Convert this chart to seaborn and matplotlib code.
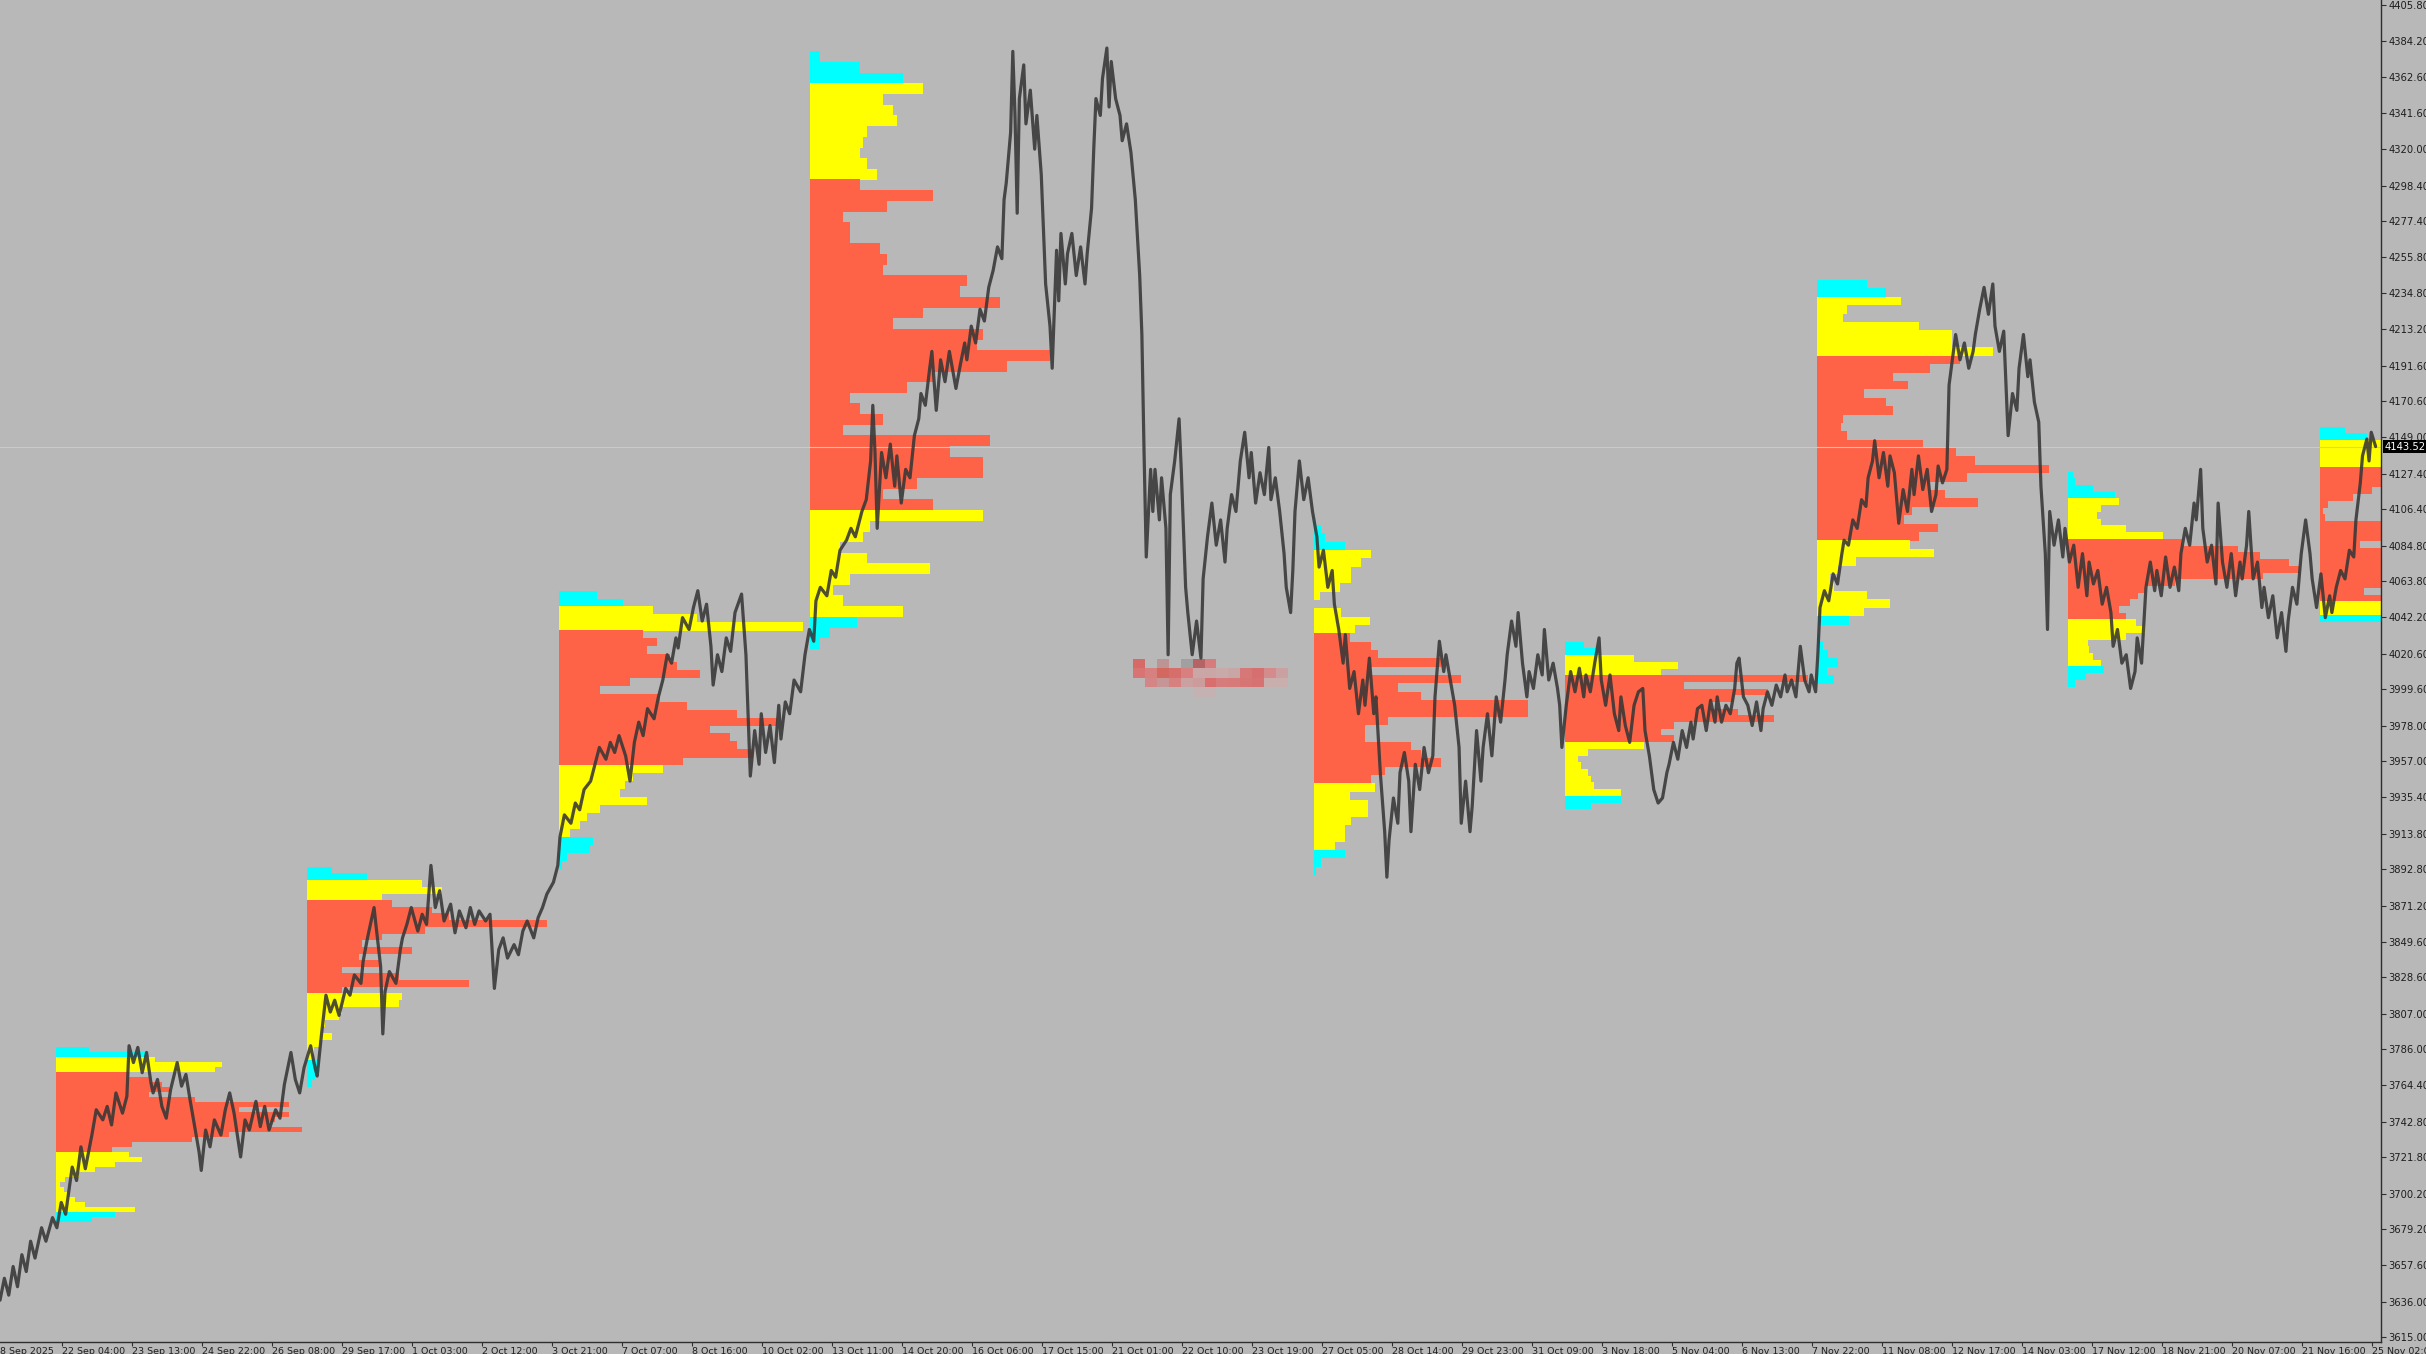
import numpy as np
import pandas as pd
import matplotlib
matplotlib.use("Agg")
import matplotlib.pyplot as plt
import matplotlib.transforms as mtransforms
from matplotlib.colors import to_rgba
import seaborn as sns

# ---------------- price path (bar index = trading hour, price) ----------------
path_w0 = [(0,3637),(2,3650),(4,3640),(6,3657),(8,3645),(10,3664),(12,3654),(14,3672),(16,3662),(19,3680),
           (21,3672),(24,3686),(26,3680),(28,3695),(30,3688),(33,3716),(35,3708),(37,3728),(39,3715),(42,3735),
           (44,3750),(47,3744),(49,3752),(51,3741),(53,3760),(56,3748),(58,3758),(59,3788),(61,3778),(63,3787),
           (65,3772),(67,3784),(69,3766),(70,3760),(72,3768),(74,3752),(76,3745),(78,3762),(81,3778),(83,3764),
           (85,3771),(87,3755),(89,3740),(91,3725),(92,3714),(94,3738),(96,3728),(98,3744),(101,3735),(103,3750),
           (105,3760),(107,3748),(110,3722),(112,3744),(114,3738),(117,3755),(119,3740),(121,3752),(123,3738),
           (126,3750),(128,3745),(130,3765),(133,3784),(135,3768),(137,3760),(139,3775)]
path_w1 = [(142,3788),(144,3775),(145,3770),(147,3795),(149,3818),(151,3808),(153,3815),(155,3806),(158,3822),
           (160,3818),(162,3830),(165,3825),(166,3838),(168,3852),(171,3870),(172,3858),(174,3835),(175,3795),
           (176,3820),(178,3832),(181,3825),(183,3845),(184,3852),(186,3860),(188,3870),(191,3856),(193,3866),
           (195,3860),(197,3895),(199,3870),(201,3880),(203,3862),(206,3872),(208,3855),(210,3868),(213,3858),
           (215,3870),(217,3860),(219,3868),(222,3862),(224,3866),(226,3822),(228,3845),(230,3852),(232,3840),
           (235,3848),(237,3842),(239,3856),(241,3862),(244,3852),(246,3864),(248,3870),(250,3878),(253,3885),
           (255,3895)]
path_w2 = [(256,3912),(258,3925),(261,3920),(263,3932),(265,3928),(267,3940),(270,3945),(272,3955),(274,3965),
           (277,3958),(279,3968),(281,3962),(283,3972),(286,3960),(288,3945),(290,3968),(292,3980),(294,3972),
           (296,3988),(299,3982),(301,3995),(303,4005),(305,4020),(307,4015),(309,4030),(310,4024),(312,4042),
           (315,4035),(317,4048),(319,4058),(321,4040),(323,4050),(325,4025),(326,4002),(328,4020),(330,4010),
           (332,4030),(334,4022),(336,4045),(339,4056),(341,4020),(343,3948),(345,3975),(347,3955),(348,3985),
           (350,3962),(352,3978),(354,3956),(356,3990),(357,3970),(359,3992),(361,3985),(363,4005),(366,3998),
           (368,4020)]
path_w3 = [(370,4035),(372,4028),(373,4052),(375,4060),(378,4055),(380,4070),(382,4066),(384,4082),(387,4088),
           (389,4095),(391,4090),(394,4105),(396,4112),(398,4135),(399,4168),(400,4140),(401,4095),(403,4140),
           (405,4125),(407,4145),(409,4120),(410,4138),(412,4110),(414,4130),(416,4125),(418,4150),(420,4160),
           (421,4175),(423,4168),(425,4190),(426,4200),(428,4165),(430,4195),(432,4182),(434,4200),(437,4178),
           (439,4192),(441,4205),(442,4195),(444,4215),(446,4205),(448,4225),(450,4218),(452,4238),(454,4248),
           (456,4262),(458,4255),(459,4290),(460,4300),(462,4330),(463,4378),(464,4340),(465,4282),(466,4350),
           (468,4370),(469,4335),(471,4355),(473,4320),(474,4340),(476,4305),(478,4240),(480,4215),(481,4190),
           (483,4260),(484,4230)]
path_w4 = [(485,4270),(487,4240),(488,4258),(490,4270),(492,4245),(494,4262),(496,4240),(497,4258),(499,4285),
           (500,4320),(501,4350),(503,4340),(504,4362),(506,4380),(507,4345),(508,4372),(510,4350),(512,4340),
           (513,4325),(515,4335),(517,4318),(519,4290),(521,4245),(522,4210),(523,4140),(524,4078),(526,4130),
           (527,4105),(528,4130),(530,4100),(531,4125),(533,4095),(534,4020),(535,4115),(537,4135),(539,4160),
           (540,4130),(542,4060),(543,4045),(545,4020),(547,4040),(549,4018),(550,4065),(552,4090),(554,4110),
           (556,4085),(558,4100),(560,4075),(561,4095),(563,4115),(565,4105),(567,4135),(569,4152),(571,4125),
           (572,4140),(574,4110),(576,4128),(578,4115),(580,4143),(581,4112),(583,4125),(585,4105),(587,4080),
           (588,4060),(590,4045),(591,4070),(592,4105),(594,4135),(596,4112),(598,4125)]
path_w5 = [(600,4105),(602,4090),(603,4072),(605,4082),(607,4060),(609,4070),(610,4050),(612,4035),(614,4015),
           (615,4032),(617,4000),(619,4010),(621,3985),(623,4005),(624,3990),(626,4018),(628,3985),(629,3995),
           (631,3950),(633,3915),(634,3888),(635,3910),(637,3935),(639,3920),(640,3950),(642,3962),(644,3945),
           (645,3915),(647,3955),(649,3940),(651,3965),(653,3950),(655,3960),(656,3995),(658,4028),(660,4010),
           (661,4020),(663,4005),(665,3990),(667,3965),(668,3920),(670,3945),(672,3915),(673,3930),(675,3975),
           (677,3945),(678,3965),(680,3985),(682,3960),(684,3995),(686,3980),(688,4005),(689,4020),(691,4040),
           (693,4025),(694,4045),(696,4015),(698,3995),(699,4010),(701,4000),(703,4020),(705,4008),(706,4035),
           (708,4005),(710,4015),(712,4000),(713,3990),(714,3965)]
path_w6 = [(716,3990),(718,4010),(720,3998),(722,4012),(724,3995),(725,4008),(727,3998),(729,4015),(731,4030),
           (732,4005),(734,3990),(736,4008),(738,3985),(740,3975),(741,3995),(743,3978),(745,3968),(747,3990),
           (749,3998),(751,4000),(752,3975),(754,3960),(756,3940),(758,3932),(760,3935),(762,3950),(763,3955),
           (765,3968),(767,3958),(769,3975),(771,3965),(773,3980),(774,3970),(776,3988),(778,3990),(780,3975),
           (782,3993),(784,3980),(785,3995),(787,3980),(789,3990),(791,3985),(793,4000),(794,4015),(795,4018),
           (797,3995),(799,3990),(801,3978),(803,3992),(805,3975),(806,3988),(808,3998),(810,3990),(812,4002),
           (814,3995),(816,4008),(817,3998),(819,4005),(821,3995),(823,4025),(825,4005),(827,3998),(828,4008),
           (830,3998)]
path_w7 = [(831,4020),(832,4048),(834,4058),(836,4052),(838,4068),(840,4062),(842,4080),(843,4088),(845,4085),
           (847,4100),(849,4095),(851,4112),(853,4108),(854,4125),(856,4135),(857,4147),(859,4125),(861,4140),
           (863,4120),(864,4138),(866,4128),(868,4098),(870,4118),(872,4105),(874,4130),(875,4115),(877,4138),
           (879,4118),(881,4130),(883,4105),(885,4115),(886,4132),(888,4122),(890,4130),(891,4180),(893,4200),
           (894,4210),(896,4195),(898,4205),(900,4190),(902,4200),(903,4210),(905,4225),(907,4238),(909,4222),
           (911,4240),(912,4215),(914,4200),(916,4212),(918,4150),(920,4175),(922,4165),(923,4190),(925,4210),
           (927,4185),(928,4195),(930,4170),(932,4158),(933,4120),(935,4080),(936,4035),(937,4105),(939,4085),
           (941,4100),(943,4078),(944,4095)]
path_w8 = [(946,4075),(948,4085),(950,4060),(952,4080),(954,4055),(955,4075),(957,4062),(959,4070),(961,4050),
           (963,4060),(965,4045),(966,4025),(968,4035),(970,4015),(972,4020),(974,4000),(976,4010),(977,4030),
           (979,4015),(981,4060),(983,4075),(985,4058),(986,4070),(988,4055),(990,4078),(992,4060),(994,4072),
           (996,4058),(997,4080),(999,4095),(1001,4085),(1003,4110),(1004,4100),(1006,4130),(1007,4095),
           (1009,4075),(1011,4085),(1013,4062),(1014,4110),(1016,4075),(1018,4060),(1020,4080),(1022,4055),
           (1024,4075),(1025,4065),(1027,4085),(1028,4105),(1030,4065),(1032,4075),(1034,4048),(1035,4060),
           (1037,4042),(1039,4055),(1041,4030),(1043,4045),(1045,4022),(1046,4040),(1048,4060),(1050,4050),
           (1052,4080),(1054,4100),(1056,4080),(1057,4065)]
path_w9 = [(1059,4048),(1061,4068),(1063,4042),(1065,4055),(1066,4045),(1068,4060),(1070,4070),(1072,4065),
           (1074,4082),(1076,4078),(1077,4100),(1079,4122),(1080,4138),(1082,4148),(1083,4135),(1084,4152),
           (1086,4143.52)]
last_price = 4143.52

# ---------------- weekly volume profiles ----------------
# week start (bar index of Monday 01:00), price range (high, low), volumes top->bottom,
# zone counts (cyan tail, yellow, value area red, yellow, cyan tail)
week_start = [25.5, 140.5, 255.5, 370.5, 600.5, 715.5, 830.5, 945.5, 1060.5]
prof_range = [(3787.4, 3683.5), (3894.2, 3763.6), (4058.0, 3893.1), (4377.9, 4023.5), (4101.9, 3889.3),
              (4027.7, 3928.4), (4242.3, 4003.0), (4128.6, 4001.0), (4155.3, 4039.6)]
prof1_vol = [33, 90, 99, 166, 159, 73, 93, 106, 113, 93, 139, 233, 183, 233, 219, 213, 246, 173, 136, 76, 56,
             73, 86, 59, 39, 23, 9, 4, 8, 11, 19, 29, 79, 59, 36]
prof2_vol = [25, 60, 115, 135, 75, 85, 125, 142, 240, 118, 75, 55, 105, 52, 72, 35, 92, 162, 35, 95, 92, 35, 32,
             18, 15, 25, 12, 7, 5, 13, 12, 8, 5]
prof3_vol = [38, 64, 94, 138, 244, 84, 98, 88, 111, 118, 141, 71, 41, 101, 128, 178, 218, 151, 171, 178, 194,
             124, 104, 74, 66, 61, 88, 41, 28, 21, 11, 34, 31, 8, 3]
prof4_vol = [10, 50, 93, 113, 73, 83, 87, 57, 53, 50, 57, 67, 50, 123, 77, 33, 40, 40, 70, 77, 73, 157, 150, 190,
             113, 83, 173, 167, 240, 197, 123, 97, 40, 50, 73, 33, 180, 140, 173, 173, 107, 73, 123, 173, 60, 53,
             30, 57, 120, 40, 23, 33, 93, 47, 20, 10]
prof5_vol = [2, 7, 11, 31, 57, 47, 37, 37, 26, 6, 0, 27, 56, 41, 36, 57, 64, 127, 57, 147, 84, 107, 214, 214, 74,
             51, 51, 97, 107, 127, 71, 57, 61, 36, 54, 54, 37, 31, 31, 21, 31, 7, 2]
prof6_vol = [19, 33, 69, 113, 96, 243, 119, 203, 169, 146, 173, 209, 109, 96, 109, 79, 23, 13, 16, 23, 26, 29, 56,
             56, 26]
prof7_vol = [50, 69, 84, 30, 26, 102, 135, 135, 176, 143, 113, 76, 91, 47, 69, 76, 26, 24, 30, 106, 139, 158, 232,
             150, 113, 128, 161, 95, 87, 121, 102, 93, 117, 39, 21, 13, 17, 50, 73, 47, 32, 1, 2, 6, 11, 21, 10, 17]
prof8_vol = [5, 7, 25, 47, 51, 33, 29, 33, 58, 95, 114, 170, 192, 221, 232, 195, 107, 77, 70, 62, 51, 58, 68, 77,
             58, 20, 21, 25, 33, 36, 18, 7]
prof9_vol = [25, 47, 70, 75, 80, 75, 80, 90, 85, 52, 33, 8, 3, 5, 75, 80, 70, 40, 75, 85, 90, 95, 85, 80, 44, 75,
             80, 75, 70]
prof_zones = [[2, 3, 16, 12, 2], [2, 3, 14, 10, 4], [2, 3, 17, 9, 4], [3, 9, 31, 10, 3], [4, 10, 18, 8, 3],
              [2, 3, 10, 8, 2], [2, 7, 22, 9, 8], [4, 6, 12, 7, 3], [2, 4, 20, 2, 1]]
prof_vols = [prof1_vol, prof2_vol, prof3_vol, prof4_vol, prof5_vol, prof6_vol, prof7_vol, prof8_vol, prof9_vol]

# axis labels
ytick_vals = [4405.8, 4384.2, 4362.6, 4341.6, 4320.0, 4298.4, 4277.4, 4255.8, 4234.8, 4213.2, 4191.6, 4170.6,
              4149.0, 4127.4, 4106.4, 4084.8, 4063.8, 4042.2, 4020.6, 3999.6, 3978.0, 3957.0, 3935.4, 3913.8,
              3892.8, 3871.2, 3849.6, 3828.6, 3807.0, 3786.0, 3764.4, 3742.8, 3721.8, 3700.2, 3679.2, 3657.6,
              3636.0, 3615.0]
first_label = "18 Sep 2025"
xtick_labels = ["22 Sep 04:00", "23 Sep 13:00", "24 Sep 22:00", "26 Sep 08:00", "29 Sep 17:00", "1 Oct 03:00",
                "2 Oct 12:00", "3 Oct 21:00", "7 Oct 07:00", "8 Oct 16:00", "10 Oct 02:00", "13 Oct 11:00",
                "14 Oct 20:00", "16 Oct 06:00", "17 Oct 15:00", "21 Oct 01:00", "22 Oct 10:00", "23 Oct 19:00",
                "27 Oct 05:00", "28 Oct 14:00", "29 Oct 23:00", "31 Oct 09:00", "3 Nov 18:00", "5 Nov 04:00",
                "6 Nov 13:00", "7 Nov 22:00", "11 Nov 08:00", "12 Nov 17:00", "14 Nov 03:00", "17 Nov 12:00",
                "18 Nov 21:00", "20 Nov 07:00", "21 Nov 16:00", "25 Nov 02:00"]
first_tick_bar, bars_per_tick = 28.5, 32

# pixelated (censored) label colours
mask_cells = [
    ["#D66A66", None, "#BC9494", None, "#A0A0A0", "#B46464", "#D67C7C", None, None, None, None, None, None],
    ["#D87474", "#D68080", "#D2685F", "#D66E6B", "#D88080", "#CAA6A6", "#CAA6A6", "#C9AAAA", "#C9A6A6",
     "#D67878", "#D66F6F", "#D48B8B", "#CBA0A0"],
    [None, "#D48686", "#C69696", "#D68080", "#CAA0A0", "#CC9C9C", "#D86E6E", "#D67C7C", "#D67A7A", "#D77474",
     "#D67272", "#C9AEAE", "#C9AEAE"],
    [None, None, None, None, None, "#C4B2B2", "#C4B2B2", None, None, None, None, None, None],
]

# ---------------- drawing ----------------
sns.set_theme(style="white")
plt.rcParams["font.family"] = ["DejaVu Sans"]

BG = "#B8B8B8"
ZONE_COLORS = ["#00FFFF", "#FFFF00", "#FF6347", "#FFFF00", "#00FFFF"]
bars_per_volume_unit = 1 / 2.1875

fig = plt.figure(figsize=(24.26, 13.54), dpi=100, facecolor=BG)
ax = fig.add_axes([0.0, 12 / 1354, 2381 / 2426, 1342 / 1354])
ax.set_facecolor(BG)

for start, (hi, lo), vols, zones in zip(week_start, prof_range, prof_vols, prof_zones):
    n = len(vols)
    step = (hi - lo) / n
    centers = hi - step * (np.arange(n) + 0.5)
    colors = []
    for c, k in zip(ZONE_COLORS, zones):
        colors += [c] * k
    ax.barh(centers, np.asarray(vols) * bars_per_volume_unit, height=step * 1.03, left=start,
            color=colors, linewidth=0, zorder=2)

ax.axhline(last_price, color="#CACACA", lw=0.8, zorder=2.5)

rgba = np.array([[to_rgba(c) if c else (0, 0, 0, 0) for c in row] for row in mask_cells])
ax.imshow(rgba, extent=(518.1, 588.9, 3994.9, 4017.4), aspect="auto", interpolation="nearest", zorder=2.6)

df = pd.DataFrame(path_w0 + path_w1 + path_w2 + path_w3 + path_w4 + path_w5 + path_w6 + path_w7 + path_w8
                  + path_w9, columns=["bar", "price"])
sns.lineplot(data=df, x="bar", y="price", color="#363636", linewidth=2.3, alpha=0.88,
             estimator=None, sort=False, ax=ax, zorder=4)

ax.set_xlim(0, 2381 / 2.1875)
ax.set_ylim(3612.2, 4408.5)
ax.grid(False)
ax.set_xlabel("")
ax.set_ylabel("")

for s in ["left", "top"]:
    ax.spines[s].set_visible(False)
for s in ["right", "bottom"]:
    ax.spines[s].set_visible(True)
    ax.spines[s].set_color("#2E2E2E")
    ax.spines[s].set_linewidth(1.0)

ax.yaxis.tick_right()
ax.set_yticks(ytick_vals)
ax.set_yticklabels([f"{v:.2f}" for v in ytick_vals])
ax.tick_params(axis="y", which="major", direction="out", length=3.5, width=0.8, color="#2E2E2E",
               labelsize=7.2, labelcolor="#1E1E1E", pad=2, right=True, left=False)

xt = [first_tick_bar + bars_per_tick * k for k in range(len(xtick_labels))]
ax.set_xticks(xt)
ax.set_xticklabels(xtick_labels)
ax.tick_params(axis="x", which="major", direction="out", length=3, width=0.8, color="#2E2E2E",
               labelsize=6.8, labelcolor="#1E1E1E", pad=0.5, bottom=True)
for lab in ax.get_xticklabels():
    lab.set_horizontalalignment("left")
ax.annotate(first_label, xy=(-2.7, 0), xycoords=ax.get_xaxis_transform(), xytext=(0, -3.3),
            textcoords="offset points", ha="left", va="top", fontsize=6.8, color="#1E1E1E",
            annotation_clip=False)

trans = mtransforms.blended_transform_factory(ax.transAxes, ax.transData)
ax.text(1.0015, last_price, "4143.52", transform=trans, ha="left", va="center", fontsize=7.2,
        color="white", bbox=dict(boxstyle="square,pad=0.18", fc="black", ec="none"), zorder=10, clip_on=False)

fig.savefig("out.png", dpi=100, facecolor=BG)
